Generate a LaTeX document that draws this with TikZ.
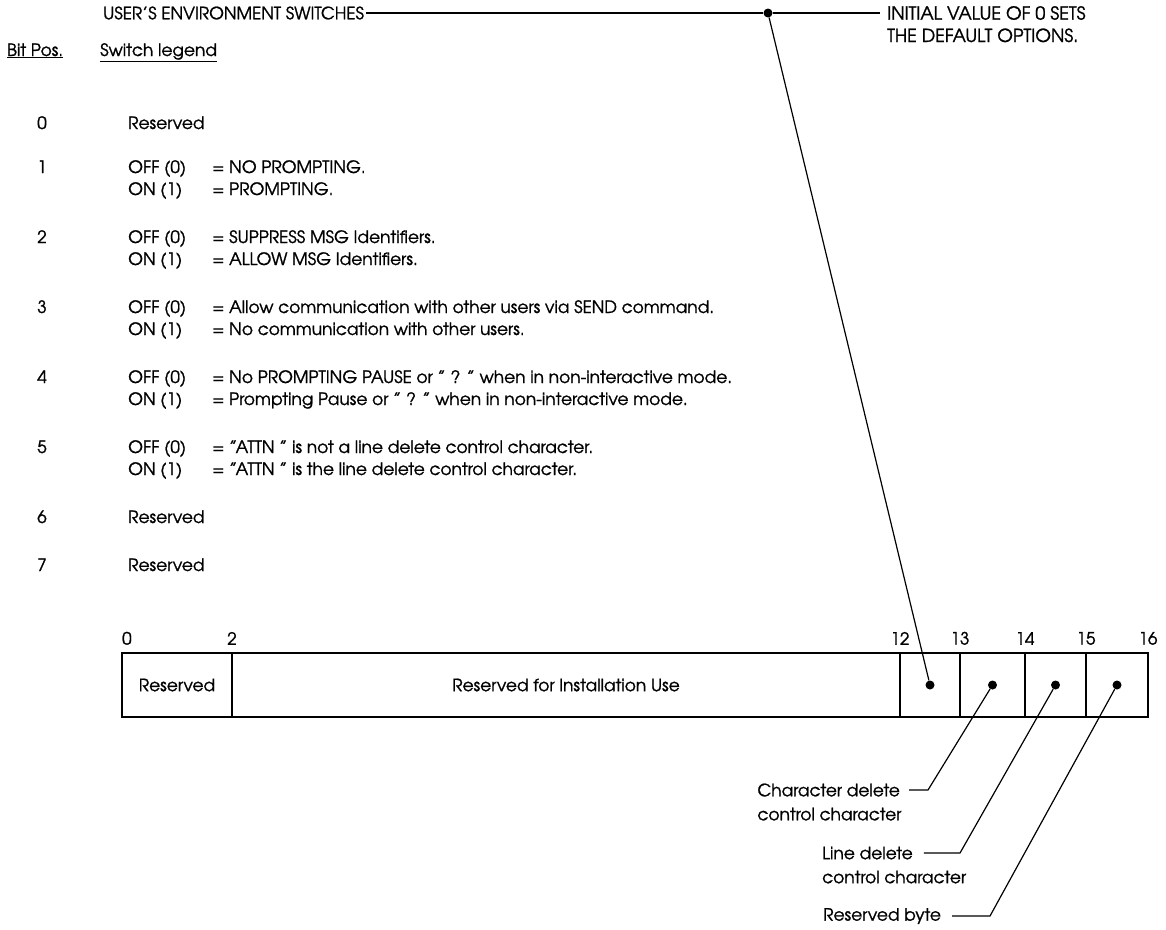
\documentclass[tikz,border=0pt]{standalone}
\usepackage{fontspec}
\setmainfont{TeX Gyre Adventor}[FakeBold=1.2]
\usetikzlibrary{positioning}

\begin{document}
\begin{tikzpicture}[
        x=1pt, y=-1pt,
        font=\fontsize{17}{20}\selectfont,
        txt/.style={anchor=base west, inner sep=0pt},
        num/.style={anchor=base, inner sep=0pt},
        lbl/.style={inner sep=0pt},
        tick/.style={anchor=south, inner sep=0pt},
        cell/.style={draw, line width=1.2pt, minimum height=64pt, inner sep=0pt, outer sep=0pt},
        dot/.style={circle, fill=black, inner sep=0pt, minimum size=9pt},
        lead/.style={line width=1.2pt}
    ]
    \useasboundingbox (0,0) rectangle (1166,929);

    % Heading
    \node[anchor=west, inner sep=2pt] (title) at (101,13) {USER'S ENVIRONMENT SWITCHES};
    \node[dot] (top) at (768,13) {};
    \node[anchor=west, inner xsep=7pt, inner ysep=2pt, font=\fontsize{18}{20}\selectfont] (init) at (880,13) {INITIAL VALUE OF 0 SETS};
    \node[txt, font=\fontsize{18}{20}\selectfont] (init2) at (887,42) {THE DEFAULT OPTIONS.};
    \draw[lead] (title) -- (top) -- (init);

    \node[txt] (bitpos) at (7,56) {\underline{Bit Pos.}};
    \node[txt] (legend) at (100,56) {\underline{Switch legend}};

    % Switch legend
    \node[num] (b0) at (42,129) {0};
    \node[txt] (s0) at (128,129) {Reserved};

    \node[num] (b1) at (42,173) {1};
    \node[txt] (off1) at (128,173) {OFF (0)};
    \node[txt] (offt1) at (212,173) {= NO PROMPTING.};
    \node[txt] (on1) at (128,195) {ON (1)};
    \node[txt] (ont1) at (212,195) {= PROMPTING.};

    \node[num] (b2) at (42,243) {2};
    \node[txt] (off2) at (128,243) {OFF (0)};
    \node[txt] (offt2) at (212,243) {= SUPPRESS MSG Identifiers.};
    \node[txt] (on2) at (128,265) {ON (1)};
    \node[txt] (ont2) at (212,265) {= ALLOW MSG Identifiers.};

    \node[num] (b3) at (42,313) {3};
    \node[txt] (off3) at (128,313) {OFF (0)};
    \node[txt] (offt3) at (212,313) {= Allow communication with other users via SEND command.};
    \node[txt] (on3) at (128,335) {ON (1)};
    \node[txt] (ont3) at (212,335) {= No communication with other users.};

    \node[num] (b4) at (42,383) {4};
    \node[txt] (off4) at (128,383) {OFF (0)};
    \node[txt] (offt4) at (212,383) {= No PROMPTING PAUSE or " ? " when in non-interactive mode.};
    \node[txt] (on4) at (128,405) {ON (1)};
    \node[txt] (ont4) at (212,405) {= Prompting Pause or " ? " when in non-interactive mode.};

    \node[num] (b5) at (42,453) {5};
    \node[txt] (off5) at (128,453) {OFF (0)};
    \node[txt] (offt5) at (212,453) {= "ATTN " is not a line delete control character.};
    \node[txt] (on5) at (128,475) {ON (1)};
    \node[txt] (ont5) at (212,475) {= "ATTN " is the line delete control character.};

    \node[num] (b6) at (42,523) {6};
    \node[txt] (s6) at (128,523) {Reserved};

    \node[num] (b7) at (42,571) {7};
    \node[txt] (s7) at (128,571) {Reserved};

    % Halfword layout
    \node[cell, minimum width=110pt, anchor=west] (c0) at (122,685) {Reserved};
    \node[cell, minimum width=668pt, right=0pt of c0] (c2) {Reserved for Installation Use};
    \node[cell, minimum width=60pt, right=0pt of c2] (c12) {};
    \node[cell, minimum width=65pt, right=0pt of c12] (c13) {};
    \node[cell, minimum width=61pt, right=0pt of c13] (c14) {};
    \node[cell, minimum width=62pt, right=0pt of c14] (c15) {};

    \node[tick, anchor=south west] (t0) at ([yshift=8pt]c0.north west) {0};
    \node[tick] (t2) at ([yshift=8pt]c2.north west) {2};
    \node[tick] (t12) at ([yshift=8pt]c12.north west) {12};
    \node[tick] (t13) at ([yshift=8pt]c13.north west) {13};
    \node[tick] (t14) at ([yshift=8pt]c14.north west) {14};
    \node[tick] (t15) at ([yshift=8pt]c15.north west) {15};
    \node[tick] (t16) at ([yshift=8pt]c15.north east) {16};

    \node[dot] (d12) at (c12) {};
    \node[dot] (d13) at (c13) {};
    \node[dot] (d14) at (c14) {};
    \node[dot] (d15) at (c15) {};
    \draw[lead] (top) -- (d12);

    % Callouts
    \node[lbl, anchor=east] (chr1) at (900,790) {Character delete};
    \node[txt] (chr2) at ([yshift=-24pt]chr1.base west) {control character};
    \coordinate (k13) at (928,790);
    \draw[lead] (d13) -- (k13) -- ([xshift=9pt]chr1.east);

    \node[lbl, anchor=west] (lin1) at (822,853) {Line delete};
    \node[txt] (lin2) at ([yshift=-24pt]lin1.base west) {control character};
    \coordinate (k14) at (960,853);
    \draw[lead] (d14) -- (k14) -- ([xshift=11pt]lin1.east);

    \node[lbl, anchor=west] (rsv) at (823,916) {Reserved byte};
    \coordinate (k15) at (990,916);
    \draw[lead] (d15) -- (k15) -- ([xshift=11pt]rsv.east);

\end{tikzpicture}
\end{document}
